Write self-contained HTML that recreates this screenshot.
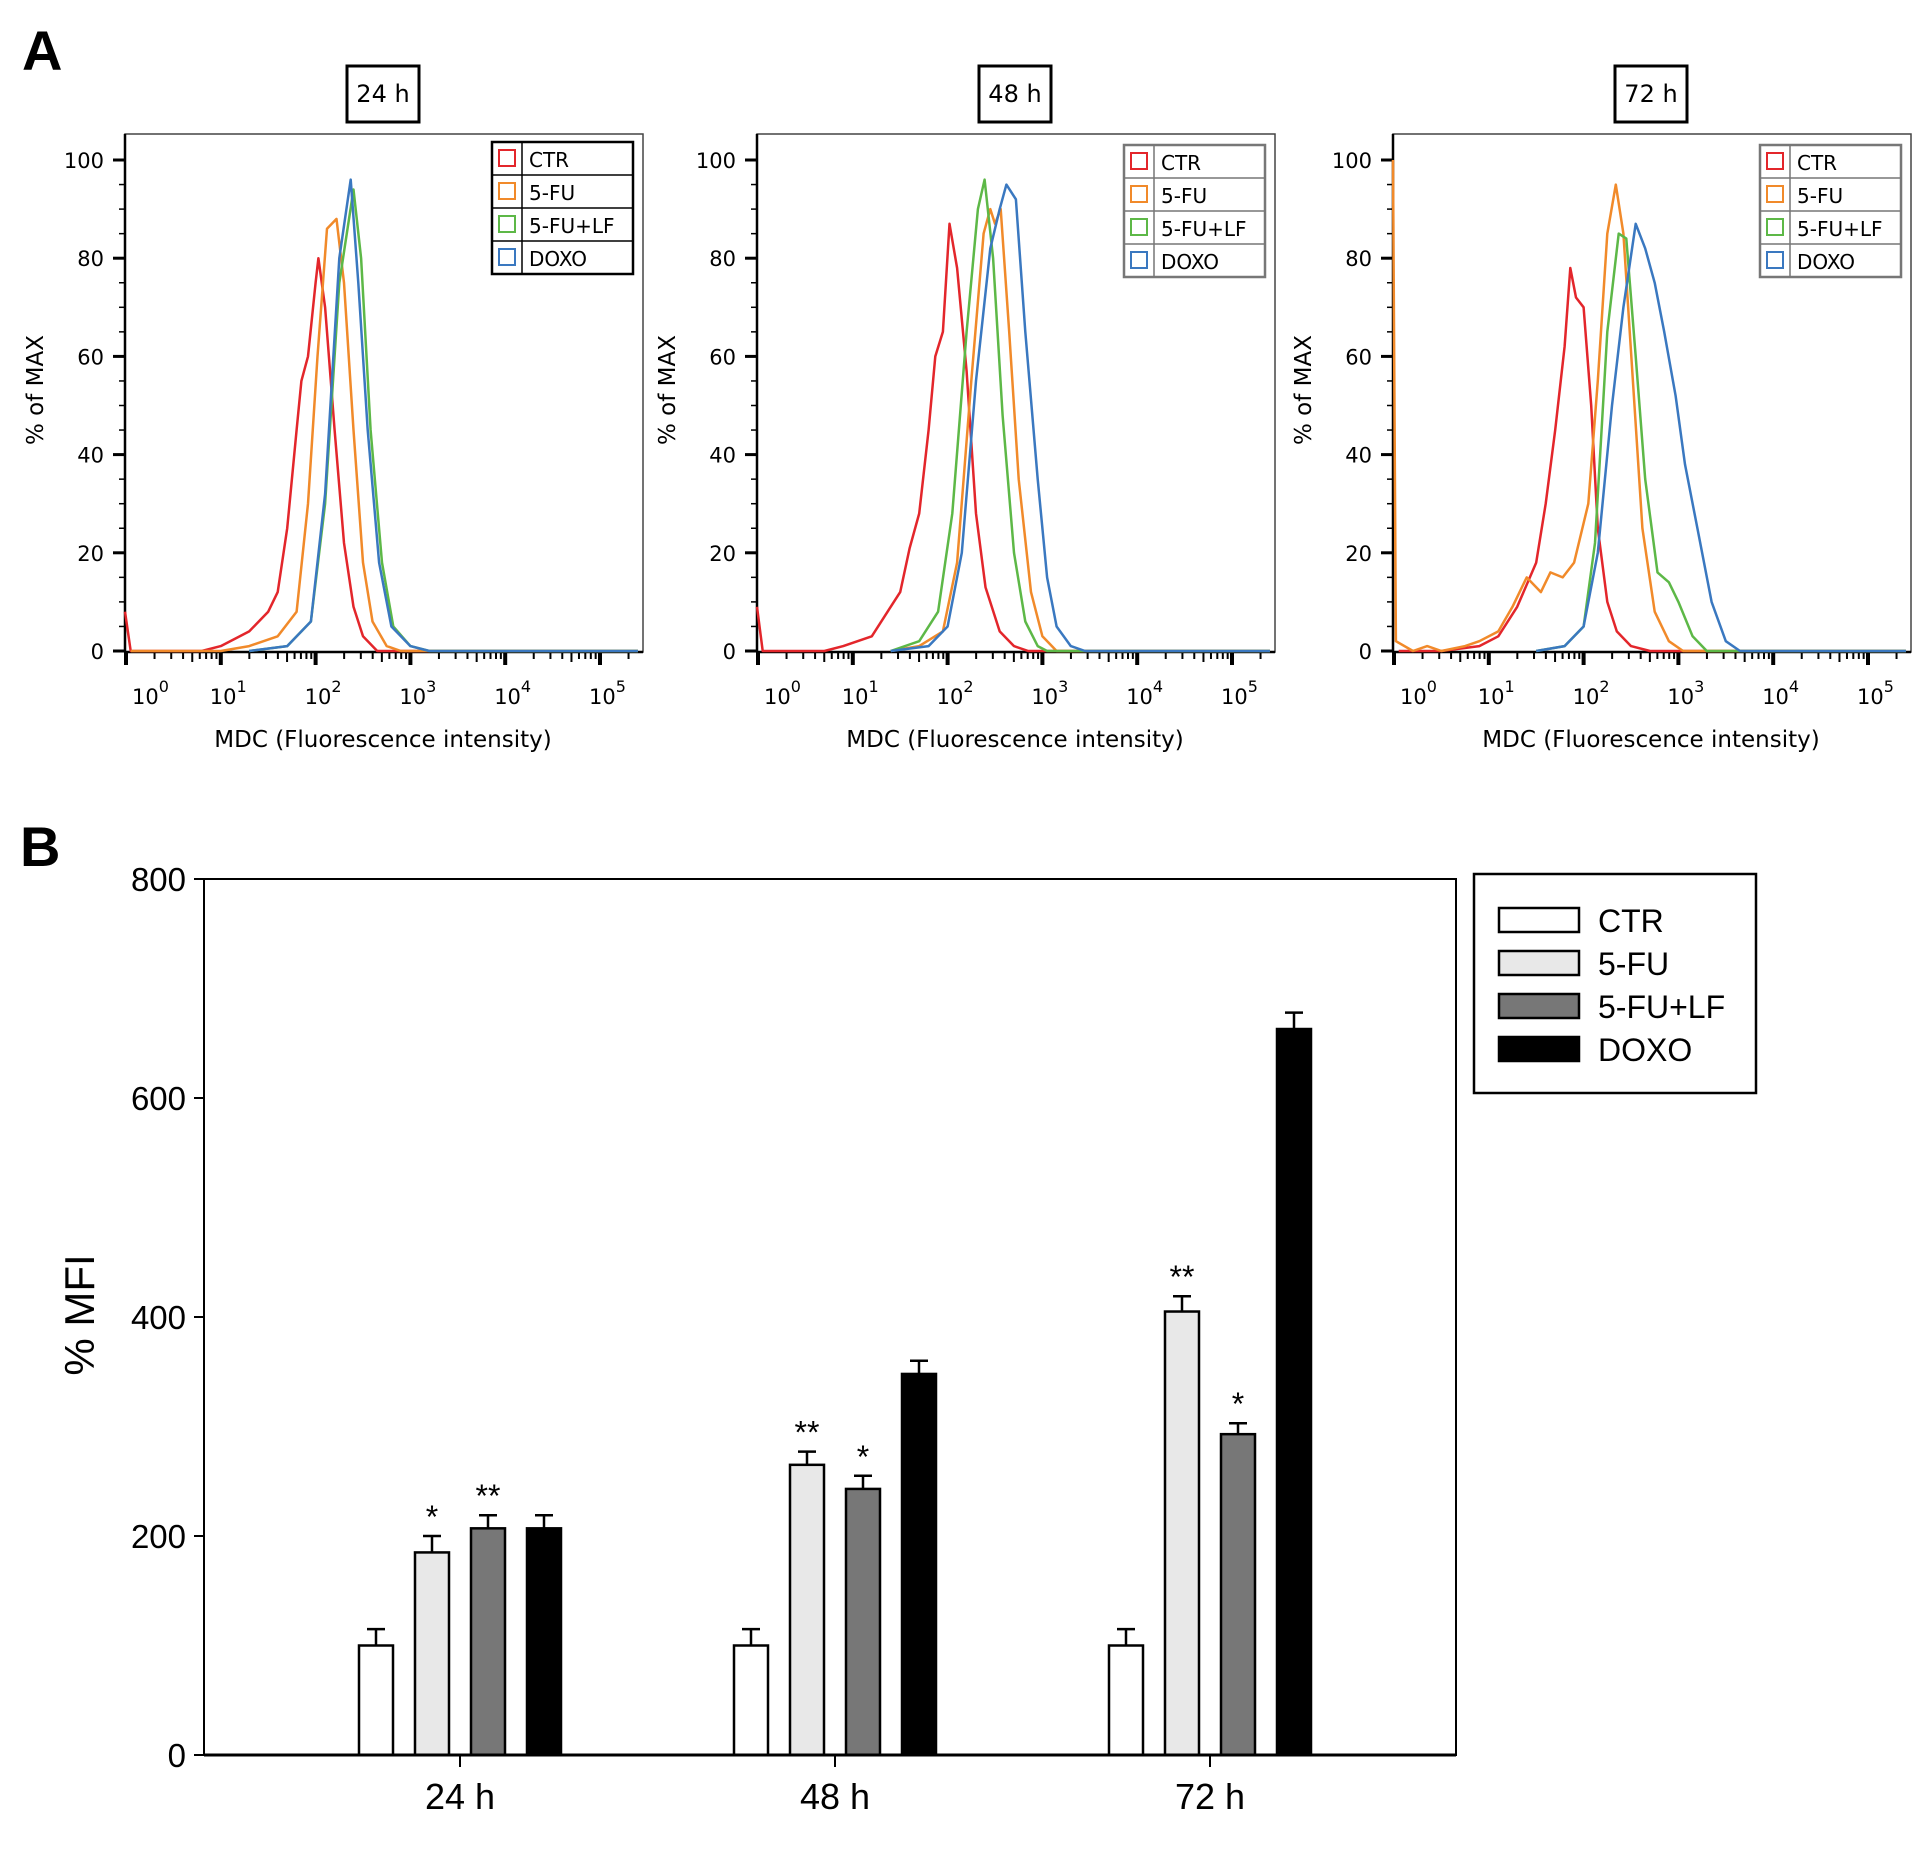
<!DOCTYPE html>
<html><head><meta charset="utf-8"><style>
html,body{margin:0;padding:0;background:#fff;}
svg{display:block;font-family:"Liberation Sans",sans-serif;}
</style></head><body>
<svg id="fig" width="1929" height="1860" viewBox="0 0 1929 1860" xmlns="http://www.w3.org/2000/svg">
<text x="22" y="70" font-size="56" font-weight="bold">A</text>
<text x="20" y="866" font-size="56" font-weight="bold">B</text>
<g id="hists"></g>
<g id="bars"></g>
</svg>
<script>
const NS="http://www.w3.org/2000/svg";
function mk(p,tag,attrs){const e=document.createElementNS(NS,tag);for(const k in attrs)e.setAttribute(k,attrs[k]);p.appendChild(e);return e;}

// ---------- Panel A data ----------
const histTimes=["24 h","48 h","72 h"];
const seriesNames=["CTR","5-FU","5-FU+LF","DOXO"];
const seriesColors=["#e3262b","#f18a2a","#5db847","#3a78c0"];
const yTicksA=[0,20,40,60,80,100];
// points: [log10 decade, % of max]
const h24CTR=[[-0.05,8],[0.05,0],[0.8,0],[1.0,1],[1.3,4],[1.5,8],[1.6,12],[1.7,25],[1.8,45],[1.85,55],[1.92,60],[2.0,75],[2.03,80],[2.1,70],[2.2,45],[2.3,22],[2.4,9],[2.5,3],[2.65,0],[5.4,0]];
const h24FU=[[0.05,0],[1.0,0],[1.3,1],[1.6,3],[1.8,8],[1.92,30],[2.02,60],[2.12,86],[2.22,88],[2.3,75],[2.4,45],[2.5,18],[2.6,6],[2.75,1],[2.9,0],[5.4,0]];
const h24LF=[[1.3,0],[1.7,1],[1.95,6],[2.1,30],[2.25,75],[2.4,94],[2.48,80],[2.58,45],[2.7,18],[2.82,5],[3.0,1],[3.2,0],[5.4,0]];
const h24DX=[[1.3,0],[1.7,1],[1.95,6],[2.1,32],[2.25,80],[2.37,96],[2.45,75],[2.55,45],[2.67,18],[2.8,5],[3.0,1],[3.2,0],[5.4,0]];
const h48CTR=[[-0.05,9],[0.05,0],[0.7,0],[0.9,1],[1.2,3],[1.4,9],[1.5,12],[1.6,21],[1.7,28],[1.8,45],[1.87,60],[1.95,65],[2.02,87],[2.1,78],[2.2,57],[2.3,28],[2.4,13],[2.55,4],[2.7,1],[2.85,0],[5.4,0]];
const h48FU=[[1.4,0],[1.7,1],[1.95,4],[2.1,18],[2.25,55],[2.38,85],[2.45,90],[2.5,87],[2.56,90],[2.65,65],[2.75,35],[2.88,12],[3.0,3],[3.15,0],[5.4,0]];
const h48LF=[[1.4,0],[1.7,2],[1.9,8],[2.05,28],[2.2,65],[2.32,90],[2.39,96],[2.48,80],[2.58,48],[2.7,20],[2.82,6],[2.95,1],[3.05,0],[5.4,0]];
const h48DX=[[1.4,0],[1.8,1],[2.0,5],[2.15,20],[2.3,55],[2.45,82],[2.55,90],[2.62,95],[2.72,92],[2.82,65],[2.95,35],[3.05,15],[3.15,5],[3.3,1],[3.45,0],[5.4,0]];
const h72CTR=[[0.05,0],[0.5,0],[0.9,1],[1.1,3],[1.3,9],[1.5,18],[1.6,30],[1.7,45],[1.8,62],[1.86,78],[1.92,72],[2.0,70],[2.08,50],[2.15,25],[2.25,10],[2.35,4],[2.5,1],[2.7,0],[5.4,0]];
const h72FU=[[-0.05,100],[0.02,2],[0.2,0],[0.35,1],[0.5,0],[0.75,1],[0.9,2],[1.1,4],[1.25,9],[1.4,15],[1.55,12],[1.65,16],[1.78,15],[1.9,18],[2.05,30],[2.15,55],[2.25,85],[2.34,95],[2.42,85],[2.52,55],[2.62,25],[2.75,8],[2.9,2],[3.05,0],[5.4,0]];
const h72LF=[[1.5,0],[1.8,1],[2.0,5],[2.12,22],[2.25,65],[2.37,85],[2.45,84],[2.55,60],[2.65,35],[2.78,16],[2.9,14],[3.0,10],[3.15,3],[3.3,0],[5.4,0]];
const h72DX=[[1.5,0],[1.8,1],[2.0,5],[2.15,20],[2.3,50],[2.42,70],[2.55,87],[2.65,82],[2.75,75],[2.85,65],[2.97,52],[3.07,38],[3.2,25],[3.35,10],[3.5,2],[3.65,0],[5.4,0]];
const histData=[[h24CTR,h24FU,h24LF,h24DX],[h48CTR,h48FU,h48LF,h48DX],[h72CTR,h72FU,h72LF,h72DX]];

const hg=document.getElementById('hists');
const panelLeft=[125,757,1393];
histTimes.forEach((t,pi)=>{
  const L=panelLeft[pi], R=L+518, T=134, B=652;
  const x0=L+1, dec=94.8;
  const X=d=>x0+dec*d, Y=v=>651-4.91*v;
  const g=mk(hg,'g',{});
  
  
  const tb=mk(g,'rect',{x:L+222,y:66,width:72,height:56,fill:'#fff',stroke:'#000','stroke-width':3});
  
  const tt=mk(g,'text',{x:L+258,y:102,'font-size':24,'text-anchor':'middle','font-family':'DejaVu Sans, sans-serif'});tt.textContent=t;
  
  const fr=mk(g,'rect',{x:L,y:T,width:R-L,height:B-T,fill:'none',stroke:'#444','stroke-width':1.5});
  
  mk(g,'line',{x1:L,y1:T,x2:L,y2:B,stroke:'#000','stroke-width':2.5});
  for(let v=0;v<=100;v+=5){const big=v%20===0;mk(g,'line',{x1:L-(big?12:6),y1:Y(v),x2:L,y2:Y(v),stroke:'#000','stroke-width':big?3:1.5});}
  yTicksA.forEach(v=>{const e=mk(g,'text',{x:L-21,y:Y(v)+8,'font-size':21,'text-anchor':'end','font-family':'DejaVu Sans, sans-serif'});e.textContent=v;
    });
  const yt=mk(g,'text',{x:0,y:0,'font-size':23,'text-anchor':'middle','font-family':'DejaVu Sans, sans-serif',transform:`translate(${L-82},390) rotate(-90)`});yt.textContent='% of MAX';
  
  mk(g,'line',{x1:L,y1:B,x2:R,y2:B,stroke:'#000','stroke-width':2.5});
  for(let d=0;d<=5;d++){
    mk(g,'line',{x1:X(d),y1:B,x2:X(d),y2:B+13,stroke:'#000','stroke-width':4});
    for(let m=2;m<=9;m++){const xx=X(d+Math.log10(m));if(xx<R)mk(g,'line',{x1:xx,y1:B,x2:xx,y2:B+(m===5?10:7),stroke:'#000','stroke-width':2});}
    const cx=d===0?X(d)+26:X(d)+9;
    const e=mk(g,'text',{x:cx-20,y:B+52,'font-size':21,'font-family':'DejaVu Sans, sans-serif'});
    e.textContent='10';const s=mk(e,'tspan',{dy:-12,'font-size':16});s.textContent=d;
    
  }
  const xt=mk(g,'text',{x:L+258,y:B+95,'font-size':23,'text-anchor':'middle','font-family':'DejaVu Sans, sans-serif'});xt.textContent='MDC (Fluorescence intensity)';
  
  histData[pi].forEach((pts,si)=>{
    const dstr=pts.map((p,i)=>(i?'L':'M')+Math.max(L,Math.min(R,X(p[0]))).toFixed(1)+','+Y(p[1]).toFixed(1)).join(' ');
    const c=mk(g,'path',{d:dstr,fill:'none',stroke:seriesColors[si],'stroke-width':2.5,'stroke-linejoin':'round'});
    
    
  });
  const lx=L+367, ly=pi===0?142:145, rh=33;
  const lg=mk(g,'g',{});
  
  mk(lg,'rect',{x:lx,y:ly,width:141,height:rh*4,fill:'#fff',stroke:pi===0?'#000':'#777','stroke-width':2.5});
  mk(lg,'line',{x1:lx+30,y1:ly,x2:lx+30,y2:ly+rh*4,stroke:pi===0?'#000':'#777','stroke-width':1.5});
  seriesNames.forEach((n,si)=>{
    if(si)mk(lg,'line',{x1:lx,y1:ly+rh*si,x2:lx+141,y2:ly+rh*si,stroke:pi===0?'#000':'#777','stroke-width':1.5});
    mk(lg,'rect',{x:lx+7,y:ly+rh*si+8,width:16,height:16,fill:'none',stroke:seriesColors[si],'stroke-width':2});
    const e=mk(lg,'text',{x:lx+37,y:ly+rh*si+25,'font-size':20,'font-family':'DejaVu Sans, sans-serif'});e.textContent=n;
    
  });
});

// ---------- Panel B data ----------
const barCategories=["24 h","48 h","72 h"];
const ctrValues=[100,100,100];
const fuValues=[185,265,405];
const lfValues=[207,243,293];
const doxoValues=[207,348,663];
const ctrErr=[15,15,15];
const fuErr=[15,12,14];
const lfErr=[12,12,10];
const doxoErr=[12,12,15];
const fuStars=["*","**","**"];
const lfStars=["**","*","*"];
const yTicksB=[0,200,400,600,800];

const bg=document.getElementById('bars');
const BL=204,BR=1456,BT=879,BB=1755;
const yB=v=>BB-(BB-BT)*v/800;
const catX=i=>460+i*375;
const fills=["#ffffff","#e8e8e8","#777777","#000000"];
const vals=[ctrValues,fuValues,lfValues,doxoValues];
const errs=[ctrErr,fuErr,lfErr,doxoErr];
const offs=[-84,-28,28,84];
const bw=34;
const frB=mk(bg,'rect',{x:BL,y:BT,width:BR-BL,height:BB-BT,fill:'none',stroke:'#000','stroke-width':2});

yTicksB.forEach(v=>{
  mk(bg,'line',{x1:BL-10,y1:yB(v),x2:BL,y2:yB(v),stroke:'#000','stroke-width':2});
  const e=mk(bg,'text',{x:BL-18,y:yB(v)+12,'font-size':33,'text-anchor':'end'});e.textContent=v;
  
});
const ytB=mk(bg,'text',{x:0,y:0,'font-size':42,'text-anchor':'middle',transform:'translate(94,1315) rotate(-90)'});ytB.textContent='% MFI';

barCategories.forEach((c,i)=>{
  mk(bg,'line',{x1:catX(i),y1:BB,x2:catX(i),y2:BB+12,stroke:'#000','stroke-width':2});
  const e=mk(bg,'text',{x:catX(i),y:BB+54,'font-size':36,'text-anchor':'middle'});e.textContent=c;
  
  vals.forEach((arr,s)=>{
    const cx=catX(i)+offs[s], top=yB(arr[i]);
    const et=yB(arr[i]+errs[s][i]);
    mk(bg,'line',{x1:cx,y1:top,x2:cx,y2:et,stroke:'#000','stroke-width':2.5});
    mk(bg,'line',{x1:cx-9,y1:et,x2:cx+9,y2:et,stroke:'#000','stroke-width':2.5});
    const r=mk(bg,'rect',{x:cx-bw/2,y:top,width:bw,height:BB-top,fill:fills[s],stroke:'#000','stroke-width':2.5});
    
    
  });
  [[fuStars,1],[lfStars,2]].forEach(([st,s])=>{
    const cx=catX(i)+offs[s];
    const e=mk(bg,'text',{x:cx,y:yB(vals[s][i]+errs[s][i])-8,'font-size':32,'text-anchor':'middle'});e.textContent=st[i];
    
  });
});
mk(bg,'line',{x1:BL,y1:BB,x2:BR,y2:BB,stroke:'#000','stroke-width':3});
const lgB=mk(bg,'g',{});

mk(lgB,'rect',{x:1474,y:874,width:282,height:219,fill:'#fff',stroke:'#000','stroke-width':2.5});
seriesNames.forEach((n,s)=>{
  const cy=920+s*43;
  mk(lgB,'rect',{x:1499,y:cy-12,width:80,height:24,fill:fills[s],stroke:'#000','stroke-width':2.5});
  const e=mk(lgB,'text',{x:1598,y:cy+12,'font-size':32});e.textContent=n;
  
});
</script>
</body></html>
